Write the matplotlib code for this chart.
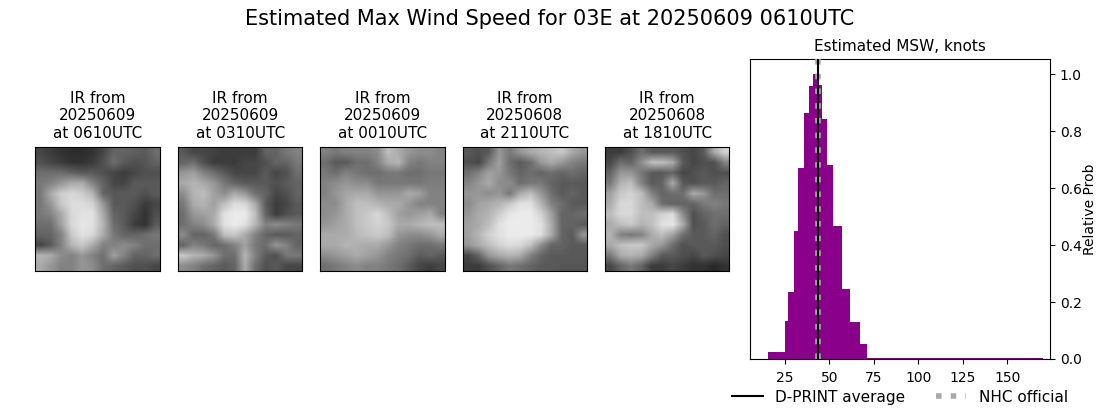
import numpy as np
import matplotlib
matplotlib.use("Agg")
import matplotlib.pyplot as plt

W, H = 1100, 409

suptitle = "Estimated Max Wind Speed for 03E at 20250609 0610UTC"
image_titles = ["IR from\n20250609\nat 0610UTC", "IR from\n20250609\nat 0310UTC",
                "IR from\n20250609\nat 0010UTC", "IR from\n20250608\nat 2110UTC",
                "IR from\n20250608\nat 1810UTC"]

ir_0610 = [
    [70, 60, 50, 45, 45, 50, 70, 100, 100, 95, 90, 110],
    [80, 70, 60, 50, 50, 60, 80, 110, 90, 80, 85, 100],
    [110, 110, 110, 100, 90, 90, 80, 70, 60, 70, 80, 80],
    [120, 130, 150, 170, 170, 130, 100, 70, 70, 90, 90, 90],
    [120, 170, 205, 215, 205, 180, 100, 90, 90, 90, 80, 90],
    [120, 150, 200, 220, 220, 210, 150, 90, 90, 80, 60, 70],
    [120, 130, 170, 215, 225, 225, 170, 100, 90, 70, 50, 80],
    [110, 110, 160, 215, 230, 225, 180, 110, 90, 60, 50, 90],
    [100, 100, 130, 200, 225, 215, 170, 120, 100, 100, 110, 120],
    [70, 90, 130, 180, 200, 170, 130, 130, 140, 130, 110, 110],
    [180, 170, 140, 130, 150, 130, 110, 160, 130, 100, 100, 110],
    [170, 150, 130, 130, 150, 140, 110, 100, 90, 80, 80, 70]]
ir_0310 = [
    [90, 70, 70, 65, 60, 60, 60, 60, 100, 100, 120, 130],
    [100, 110, 80, 60, 60, 60, 70, 70, 80, 100, 100, 120],
    [150, 160, 130, 110, 90, 70, 70, 70, 90, 70, 80, 110],
    [170, 180, 170, 150, 120, 100, 90, 90, 90, 80, 90, 100],
    [140, 180, 190, 160, 140, 170, 150, 110, 100, 70, 80, 100],
    [120, 170, 180, 160, 190, 220, 215, 170, 90, 60, 70, 90],
    [110, 150, 160, 170, 225, 235, 235, 190, 100, 60, 80, 90],
    [110, 130, 140, 170, 225, 235, 225, 180, 130, 140, 130, 120],
    [140, 100, 100, 120, 190, 200, 170, 130, 100, 90, 90, 100],
    [100, 130, 120, 100, 110, 130, 160, 120, 110, 150, 130, 100],
    [200, 180, 170, 150, 110, 110, 180, 130, 90, 80, 120, 120],
    [140, 130, 110, 100, 90, 100, 170, 110, 80, 90, 70, 70]]
ir_0010 = [
    [130, 120, 130, 130, 130, 140, 190, 170, 150, 140, 140, 130],
    [110, 90, 90, 110, 110, 130, 170, 180, 130, 120, 130, 130],
    [120, 110, 130, 120, 110, 110, 120, 120, 110, 110, 120, 120],
    [130, 140, 150, 140, 140, 120, 120, 120, 120, 120, 125, 125],
    [130, 150, 165, 170, 170, 150, 150, 150, 170, 160, 130, 130],
    [140, 140, 170, 190, 190, 180, 170, 170, 150, 130, 130, 130],
    [140, 150, 170, 190, 200, 215, 190, 160, 150, 160, 170, 130],
    [150, 160, 170, 190, 200, 210, 200, 170, 170, 180, 190, 190],
    [170, 170, 170, 185, 195, 200, 190, 150, 140, 140, 150, 170],
    [170, 170, 180, 175, 170, 170, 150, 130, 120, 110, 110, 120],
    [140, 150, 160, 170, 160, 150, 130, 120, 110, 90, 100, 90],
    [110, 120, 130, 140, 130, 130, 120, 110, 90, 70, 60, 70]]
ir_2110 = [
    [90, 80, 90, 150, 120, 150, 170, 180, 190, 200, 170, 150],
    [80, 70, 120, 160, 110, 90, 110, 150, 170, 150, 130, 120],
    [110, 130, 160, 150, 120, 100, 110, 100, 110, 100, 110, 100],
    [130, 150, 170, 140, 140, 110, 120, 120, 100, 90, 90, 90],
    [150, 150, 140, 150, 120, 170, 190, 150, 110, 90, 100, 90],
    [140, 160, 170, 180, 200, 225, 225, 180, 130, 110, 90, 90],
    [150, 170, 180, 205, 230, 235, 235, 210, 160, 100, 100, 110],
    [160, 170, 190, 225, 235, 235, 235, 225, 170, 100, 100, 90],
    [160, 180, 210, 225, 235, 235, 235, 220, 170, 100, 90, 150],
    [150, 170, 190, 210, 220, 215, 190, 140, 100, 100, 90, 90],
    [70, 100, 150, 170, 180, 170, 130, 100, 90, 90, 90, 90],
    [60, 60, 80, 100, 120, 110, 100, 90, 90, 85, 85, 85]]
ir_1810 = [
    [60, 60, 80, 110, 90, 90, 90, 80, 70, 90, 170, 210],
    [70, 110, 100, 140, 190, 190, 170, 90, 70, 80, 80, 130],
    [100, 150, 150, 120, 90, 90, 100, 70, 80, 90, 80, 80],
    [120, 180, 190, 130, 90, 100, 170, 90, 80, 90, 90, 100],
    [160, 200, 210, 190, 130, 100, 110, 110, 170, 150, 110, 110],
    [170, 215, 215, 190, 170, 110, 100, 100, 100, 120, 130, 120],
    [190, 215, 215, 190, 190, 210, 220, 140, 80, 100, 110, 110],
    [170, 190, 200, 180, 190, 225, 230, 170, 80, 90, 110, 100],
    [180, 130, 120, 130, 170, 190, 160, 110, 90, 90, 100, 80],
    [170, 190, 200, 200, 170, 150, 110, 80, 90, 90, 90, 80],
    [120, 170, 180, 170, 130, 90, 90, 80, 70, 90, 80, 70],
    [70, 100, 120, 100, 60, 60, 70, 60, 50, 50, 40, 50]]
ir_images = [ir_0610, ir_0310, ir_0010, ir_2110, ir_1810]

bin_edges = [15.4, 25, 26.7, 30, 32.3, 35.7, 38.5, 40.7, 43.1, 45.8, 48.6, 52, 57, 61.5, 67, 71, 170]
rel_prob = [0.025, 0.133, 0.235, 0.45, 0.67, 0.865, 0.96, 1.0, 0.963, 0.844, 0.68, 0.466, 0.245, 0.13, 0.052, 0.004]
dprint_avg = 43.4
nhc_official = 43.4
x_ticks = [25, 50, 75, 100, 125, 150]
y_ticks = [0.0, 0.2, 0.4, 0.6, 0.8, 1.0]


def box(l, t, r, b):
    return [l / W, 1 - b / H, (r - l) / W, (b - t) / H]


fig = plt.figure(figsize=(11, 4.09), dpi=100)
fig.suptitle(suptitle, fontsize=15, x=0.5, y=0.977)

image_boxes = [(35.3, 147.3, 160.3, 271), (178.3, 147.3, 302.3, 271), (320.3, 147.3, 445.3, 271),
               (462.5, 147.3, 587.3, 271), (605.3, 147.3, 729.3, 271)]
for grid, title, b in zip(ir_images, image_titles, image_boxes):
    ax = fig.add_axes(box(*b))
    ax.imshow(np.array(grid), cmap="gray", vmin=0, vmax=255, interpolation="bilinear", aspect="auto")
    ax.set_xticks([])
    ax.set_yticks([])
    ax.set_title(title, fontsize=11, pad=6.8)

ax = fig.add_axes(box(750.3, 59.3, 1050, 359))
edges = np.array(bin_edges)
ax.bar(edges[:-1], rel_prob, width=np.diff(edges), align="edge", color="darkmagenta")
ax.axvline(nhc_official, color="darkgray", lw=4, ls=":", label="NHC official", zorder=3)
ax.axvline(dprint_avg, color="black", lw=1.5, label="D-PRINT average", zorder=4)
ax.set_xlim(5.6, 174.1)
ax.set_ylim(0, 1.052)
ax.set_xticks(x_ticks)
ax.set_yticks(y_ticks)
ax.yaxis.tick_right()
ax.yaxis.set_label_position("right")
ax.set_ylabel("Relative Prob", fontsize=10, labelpad=0.8)
ax.tick_params(labelsize=10)
ax.tick_params(axis="x", pad=4.8)
ax.set_title("Estimated MSW, knots", fontsize=11)
handles, labels = ax.get_legend_handles_labels()
order = [labels.index("D-PRINT average"), labels.index("NHC official")]
ax.legend([handles[i] for i in order], [labels[i] for i in order], ncol=2, frameon=False,
          fontsize=11, loc="upper center", bbox_to_anchor=(0.4995, -0.057), columnspacing=2.0)

fig.savefig("out.png", dpi=100)
